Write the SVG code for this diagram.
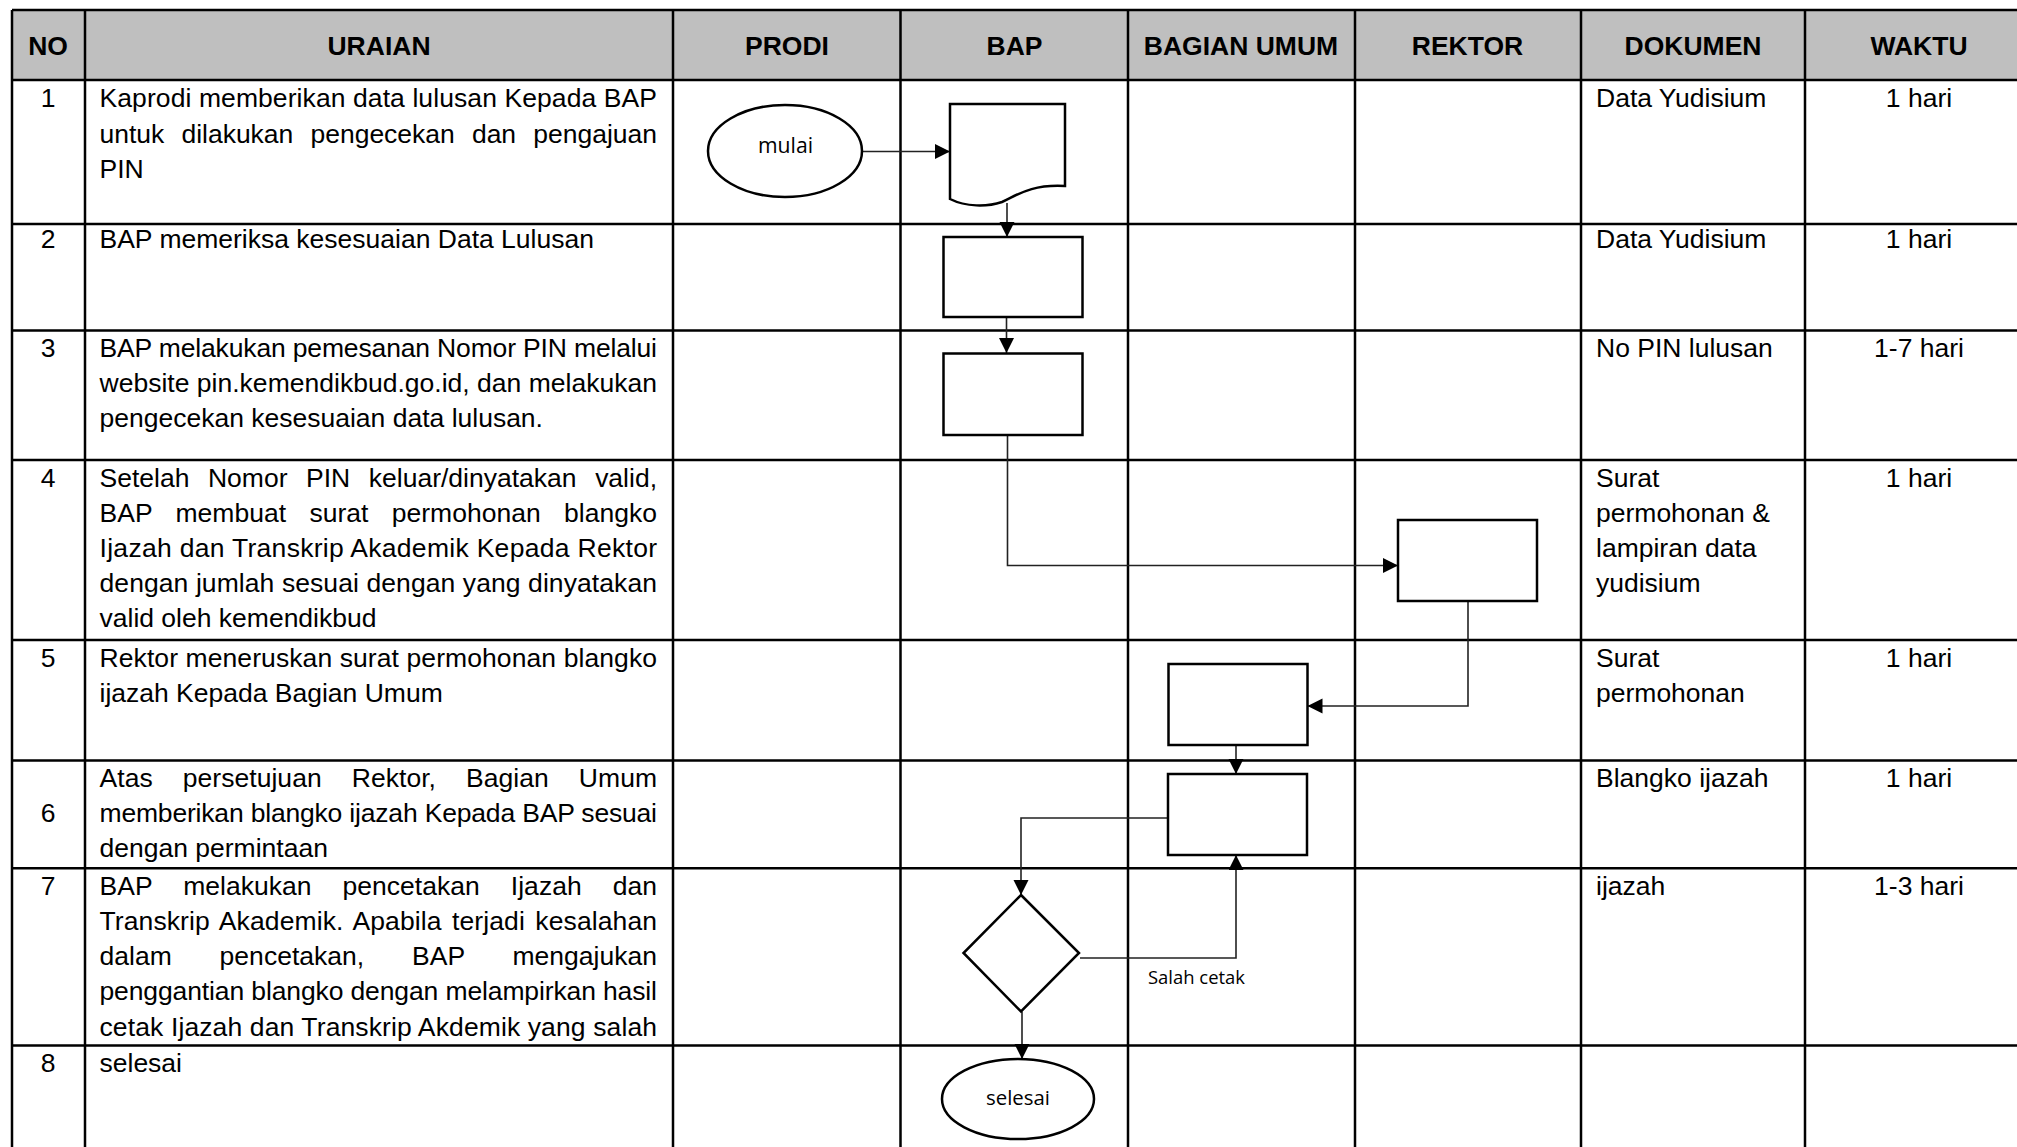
<svg xmlns="http://www.w3.org/2000/svg" width="2017" height="1147" viewBox="0 0 2017 1147">
<style>
.t{font-family:"Liberation Sans",Arial,sans-serif;font-size:26.5px;fill:#000}
.h{font-family:"Liberation Sans",Arial,sans-serif;font-size:26.5px;font-weight:bold;text-anchor:middle;fill:#000}
.c{text-anchor:middle}
.grid{stroke:#000;stroke-width:2.5;fill:none}
.shape{fill:#fff;stroke:#000;stroke-width:2.5}
.conn{fill:none;stroke:#222;stroke-width:1.6}
.lbl{font-family:"Open Sans","Noto Sans",sans-serif;fill:#000}
</style>
<defs>
<marker id="ah" markerUnits="userSpaceOnUse" markerWidth="16" markerHeight="16" refX="15" refY="7.5" orient="auto">
<path d="M0,0 L15,7.5 L0,15 Z" fill="#000"/>
</marker>
</defs>
<rect width="2017" height="1147" fill="#fff"/>
<g id="table">
<rect x="12" y="10" width="2030" height="70" fill="#bfbfbf"/>
<path class="grid" d="M12,10H2017M12,80H2017M12,224H2017M12,330.5H2017M12,460H2017M12,640H2017M12,760.5H2017M12,868.3H2017M12,1045.5H2017"/>
<path class="grid" d="M12,10V1147M85,10V1147M673,10V1147M900.5,10V1147M1128,10V1147M1355,10V1147M1581,10V1147M1805,10V1147"/>
<g id="header">
<text class="h" x="48" y="54.5">NO</text>
<text class="h" x="379" y="54.5">URAIAN</text>
<text class="h" x="787" y="54.5">PRODI</text>
<text class="h" x="1014.5" y="54.5">BAP</text>
<text class="h" x="1241" y="54.5">BAGIAN UMUM</text>
<text class="h" x="1467.5" y="54.5">REKTOR</text>
<text class="h" x="1693" y="54.5">DOKUMEN</text>
<text class="h" x="1919" y="54.5">WAKTU</text>
</g>
<g id="no-col" class="t">
<text class="t c" x="48" y="107.3">1</text>
<text class="t c" x="48" y="248.3">2</text>
<text class="t c" x="48" y="356.5">3</text>
<text class="t c" x="48" y="486.5">4</text>
<text class="t c" x="48" y="666.5">5</text>
<text class="t c" x="48" y="822">6</text>
<text class="t c" x="48" y="894.5">7</text>
<text class="t c" x="48" y="1072">8</text>
</g>
<g id="uraian">
<text class="t" x="99.5" y="107.3" textLength="557.5" lengthAdjust="spacing">Kaprodi memberikan data lulusan Kepada BAP</text>
<text class="t" x="99.5" y="142.5" textLength="557.5" lengthAdjust="spacing" style="word-spacing:9.7px">untuk dilakukan pengecekan dan pengajuan</text>
<text class="t" x="99.5" y="177.5">PIN</text>
<text class="t" x="99.5" y="248.3">BAP memeriksa kesesuaian Data Lulusan</text>
<text class="t" x="99.5" y="356.5" textLength="557.5" lengthAdjust="spacing">BAP melakukan pemesanan Nomor PIN melalui</text>
<text class="t" x="99.5" y="391.5" textLength="557.5" lengthAdjust="spacing">website pin.kemendikbud.go.id, dan melakukan</text>
<text class="t" x="99.5" y="426.5">pengecekan kesesuaian data lulusan.</text>
<text class="t" x="99.5" y="486.5" textLength="557.5" lengthAdjust="spacing" style="word-spacing:11.2px">Setelah Nomor PIN keluar/dinyatakan valid,</text>
<text class="t" x="99.5" y="521.5" textLength="557.5" lengthAdjust="spacing" style="word-spacing:16px">BAP membuat surat permohonan blangko</text>
<text class="t" x="99.5" y="556.5" textLength="557.5" lengthAdjust="spacing">Ijazah dan Transkrip Akademik Kepada Rektor</text>
<text class="t" x="99.5" y="591.5" textLength="557.5" lengthAdjust="spacing">dengan jumlah sesuai dengan yang dinyatakan</text>
<text class="t" x="99.5" y="626.5">valid oleh kemendikbud</text>
<text class="t" x="99.5" y="666.5" textLength="557.5" lengthAdjust="spacing">Rektor meneruskan surat permohonan blangko</text>
<text class="t" x="99.5" y="701.5">ijazah Kepada Bagian Umum</text>
<text class="t" x="99.5" y="787" textLength="557.5" lengthAdjust="spacing" style="word-spacing:22.6px">Atas persetujuan Rektor, Bagian Umum</text>
<text class="t" x="99.5" y="822" textLength="557.5" lengthAdjust="spacing">memberikan blangko ijazah Kepada BAP sesuai</text>
<text class="t" x="99.5" y="857">dengan permintaan</text>
<text class="t" x="99.5" y="894.5" textLength="557.5" lengthAdjust="spacing" style="word-spacing:23.7px">BAP melakukan pencetakan Ijazah dan</text>
<text class="t" x="99.5" y="929.8" textLength="557.5" lengthAdjust="spacing" style="word-spacing:3px">Transkrip Akademik. Apabila terjadi kesalahan</text>
<text class="t" x="99.5" y="965.1" textLength="557.5" lengthAdjust="spacing" style="word-spacing:40.5px">dalam pencetakan, BAP mengajukan</text>
<text class="t" x="99.5" y="1000.4" textLength="557.5" lengthAdjust="spacing">penggantian blangko dengan melampirkan hasil</text>
<text class="t" x="99.5" y="1035.7" textLength="557.5" lengthAdjust="spacing">cetak Ijazah dan Transkrip Akdemik yang salah</text>
<text class="t" x="99.5" y="1072">selesai</text>
</g>
<g id="dokumen">
<text class="t" x="1596" y="107.3">Data Yudisium</text>
<text class="t" x="1596" y="248.3">Data Yudisium</text>
<text class="t" x="1596" y="356.5">No PIN lulusan</text>
<text class="t" x="1596" y="486.5">Surat</text>
<text class="t" x="1596" y="521.5">permohonan &amp;</text>
<text class="t" x="1596" y="556.5">lampiran data</text>
<text class="t" x="1596" y="591.5">yudisium</text>
<text class="t" x="1596" y="666.5">Surat</text>
<text class="t" x="1596" y="701.5">permohonan</text>
<text class="t" x="1596" y="787">Blangko ijazah</text>
<text class="t" x="1596" y="894.5">ijazah</text>
</g>
<g id="waktu">
<text class="t c" x="1919" y="107.3">1 hari</text>
<text class="t c" x="1919" y="248.3">1 hari</text>
<text class="t c" x="1919" y="356.5">1-7 hari</text>
<text class="t c" x="1919" y="486.5">1 hari</text>
<text class="t c" x="1919" y="666.5">1 hari</text>
<text class="t c" x="1919" y="787">1 hari</text>
<text class="t c" x="1919" y="894.5">1-3 hari</text>
</g>
</g>
<g id="connectors">
<path class="conn" d="M862,151.5H950" marker-end="url(#ah)"/>
<path class="conn" d="M1007,203V237" marker-end="url(#ah)"/>
<path class="conn" d="M1006.5,317V353" marker-end="url(#ah)"/>
<path class="conn" d="M1007.5,435V565.5H1398" marker-end="url(#ah)"/>
<path class="conn" d="M1468,600V706H1307.5" marker-end="url(#ah)"/>
<path class="conn" d="M1236,745V774" marker-end="url(#ah)"/>
<path class="conn" d="M1168,818H1021V895" marker-end="url(#ah)"/>
<path class="conn" d="M1080,958H1236V855" marker-end="url(#ah)"/>
<path class="conn" d="M1022,1011.5V1059" marker-end="url(#ah)"/>
<text class="lbl" x="1148" y="984" font-size="17.5" textLength="97" lengthAdjust="spacingAndGlyphs">Salah cetak</text>
</g>
<g id="mulai">
<ellipse class="shape" cx="785" cy="151" rx="77" ry="46"/>
<text class="lbl c" x="785.5" y="152.5" font-size="21" textLength="55" lengthAdjust="spacingAndGlyphs">mulai</text>
</g>
<g id="doc-bap">
<path class="shape" d="M950,104H1065V186C1030,184 1016,196 1002,202C987,207 966,207 950,199Z"/>
</g>
<g id="proses-bap-2"><rect class="shape" x="943.5" y="237" width="139" height="80"/></g>
<g id="proses-bap-3"><rect class="shape" x="943.5" y="353.5" width="139" height="81.5"/></g>
<g id="proses-rektor"><rect class="shape" x="1398" y="520" width="139" height="81"/></g>
<g id="proses-umum-5"><rect class="shape" x="1168.5" y="664" width="139" height="81"/></g>
<g id="proses-umum-6"><rect class="shape" x="1168" y="774" width="139" height="81"/></g>
<g id="keputusan"><polygon class="shape" points="1021,895 1079,953 1021,1011.5 963.5,953"/></g>
<g id="selesai">
<ellipse class="shape" cx="1018" cy="1099" rx="76" ry="40"/>
<text class="lbl c" x="1018" y="1105" font-size="20" textLength="64" lengthAdjust="spacingAndGlyphs">selesai</text>
</g>
</svg>
